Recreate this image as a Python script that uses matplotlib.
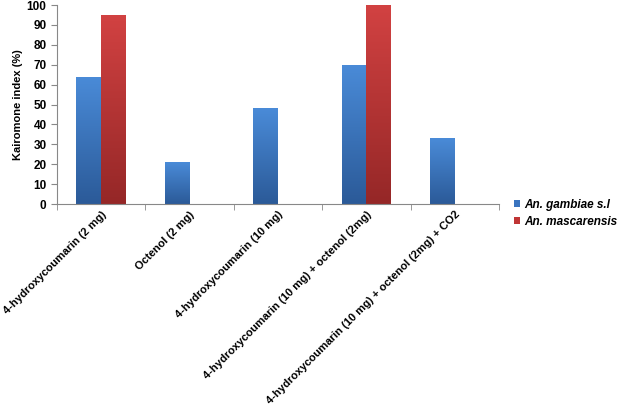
import matplotlib.pyplot as plt
import numpy as np
from matplotlib.colors import LinearSegmentedColormap

# Data
treatments = ["4-hydroxycoumarin (2 mg)", "Octenol (2 mg)", "4-hydroxycoumarin (10 mg)",
              "4-hydroxycoumarin (10 mg) + octenol (2mg)",
              "4-hydroxycoumarin (10 mg) + octenol (2mg) + CO2"]
gambiae = [64, 21, 48, 70, 33]
mascarensis = [95, 0, 0, 100, 0]
series_names = ["An. gambiae s.l", "An. mascarensis"]

plt.rcParams['font.family'] = ['Liberation Sans', 'DejaVu Sans']

fig = plt.figure(figsize=(6.17, 4.09), dpi=100)
ax = fig.add_axes([57 / 617, 1 - 204 / 409, (499 - 57) / 617, (204 - 5) / 409])

x = np.arange(len(treatments))
w = 0.28
blue_cmap = LinearSegmentedColormap.from_list("b", ["#2b5a98", "#4a8bd8"])
red_cmap = LinearSegmentedColormap.from_list("r", ["#952727", "#d24242"])

bars_b = ax.bar(x - w / 2, gambiae, w, color="#3a74bf", label=series_names[0])
bars_r = ax.bar(x + w / 2, mascarensis, w, color="#c03535", label=series_names[1])

# vertical gradient fill, lighter on top
grad = np.linspace(0, 1, 256).reshape(-1, 1)
for bars, cmap in [(bars_b, blue_cmap), (bars_r, red_cmap)]:
    for b in bars:
        h = b.get_height()
        if h <= 0:
            continue
        x0 = b.get_x()
        im = ax.imshow(grad, cmap=cmap, origin="lower", aspect="auto",
                       extent=[x0, x0 + b.get_width(), 0, h], zorder=2)
        im.set_clip_path(b)

ax.set_xlim(-0.5, len(treatments) - 0.5)
ax.set_ylim(0, 100)
ax.set_yticks(range(0, 101, 10))
ax.set_xticks(np.arange(-0.5, len(treatments), 1), minor=True)
ax.set_xticks(x)
ax.set_xticklabels(treatments, rotation=45, ha="right", rotation_mode="anchor",
                   fontsize=8, fontweight="bold")
ax.tick_params(axis="x", which="major", length=0, pad=4)
ax.tick_params(axis="x", which="minor", length=4, color="#888888")
ax.tick_params(axis="y", labelsize=8.5, length=4, color="#888888")
for lbl in ax.get_yticklabels():
    lbl.set_fontweight("bold")

for s in ["top", "right"]:
    ax.spines[s].set_visible(False)
ax.spines["left"].set_color("#888888")
ax.spines["bottom"].set_color("#888888")

ax.set_ylabel("Kairomone index (%)", fontsize=8, fontweight="bold", labelpad=3)

fig.legend(handles=[bars_b, bars_r], labels=series_names, loc="upper left",
           bbox_to_anchor=(503 / 617, 1 - 188 / 409), frameon=False,
           handlelength=0.5, handleheight=0.5, handletextpad=0.4, labelspacing=0.45,
           prop={"size": 8.5, "weight": "bold", "style": "italic"})

fig.savefig("out.png", dpi=100)
